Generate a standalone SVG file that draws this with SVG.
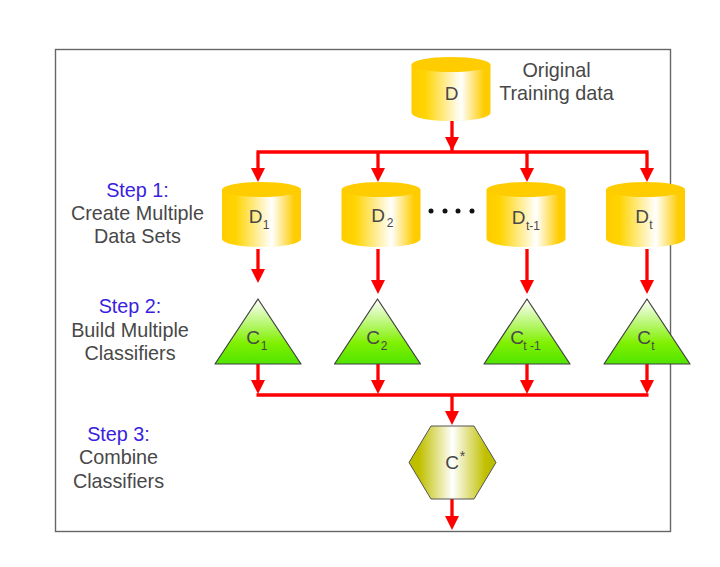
<svg xmlns="http://www.w3.org/2000/svg" xmlns:xlink="http://www.w3.org/1999/xlink" width="720" height="567" viewBox="0 0 720 567">
<style>
text{font-family:"Liberation Sans",Arial,sans-serif;fill:#484848;font-size:19.800px;text-anchor:middle}
text.step{fill:#3a1ee0}
text.lbl{font-size:19px}
text.sub{font-size:12px}
text.ast{font-size:14px}
.wire{stroke:#ff0000;stroke-width:3.300;fill:none}
.head{fill:#ff0000}
.cyl{fill:url(#gold)}
.cap{fill:#ffcc00}
.tri{fill:url(#green);stroke:#404040;stroke-width:1.200;stroke-linejoin:round}
.dot{fill:#111}
</style>
<defs>
<linearGradient id="gold" x1="0" x2="1" y1="0" y2="0">
<stop offset="0" stop-color="#ffcc00"/><stop offset="0.17" stop-color="#ffd400"/><stop offset="0.63" stop-color="#ffffff"/><stop offset="0.92" stop-color="#ffcc00"/><stop offset="1" stop-color="#ffcc00"/>
</linearGradient>
<linearGradient id="green" x1="0" x2="0" y1="0" y2="1">
<stop offset="0" stop-color="#ffffff"/><stop offset="0.68" stop-color="#80f000"/><stop offset="1" stop-color="#50e400"/>
</linearGradient>
<linearGradient id="olive" x1="0" x2="1" y1="0" y2="0">
<stop offset="0" stop-color="#bcbc00"/><stop offset="0.12" stop-color="#c0c000"/><stop offset="0.5" stop-color="#ffffff"/><stop offset="0.88" stop-color="#c0c000"/><stop offset="1" stop-color="#bcbc00"/>
</linearGradient>
<path id="cylinder" d="M-39.500 -55 V-6 A39.500 8 0 0 0 39.500 -6 V-55 Z"/>
<path id="arrow" d="M-7 -14 H7 L0 0 Z"/>
<path id="triangle" d="M0 0 L43 65 H-43 Z"/>
</defs>
<rect x="55.500" y="49.500" width="615" height="482" fill="#fff" stroke="#666" stroke-width="1.400"/>
<g id="connectors">
<path class="wire" d="M452 120V140M256.500 152H648.500M258 152V170M378 152V170M527 152V170M647 152V170M452 152V140"/>
<path class="wire" d="M258 249V272M378 249V283M527 249V283M647 249V283"/>
<path class="wire" d="M258 364V383M378 364V383M527 364V383M647 364V383M256.500 395H648.500M452 395V412M452 499V518"/>
<g class="head">
<use xlink:href="#arrow" x="452" y="151"/><use xlink:href="#arrow" x="258" y="182"/><use xlink:href="#arrow" x="378" y="182"/><use xlink:href="#arrow" x="527" y="182"/><use xlink:href="#arrow" x="647" y="182"/>
<use xlink:href="#arrow" x="258" y="283"/><use xlink:href="#arrow" x="378" y="294"/><use xlink:href="#arrow" x="527" y="294"/><use xlink:href="#arrow" x="647" y="294"/>
<use xlink:href="#arrow" x="258" y="394"/><use xlink:href="#arrow" x="378" y="394"/><use xlink:href="#arrow" x="527" y="394"/><use xlink:href="#arrow" x="647" y="394"/>
<use xlink:href="#arrow" x="452" y="425"/><use xlink:href="#arrow" x="452" y="530"/>
</g>
</g>
<g id="node-D"><use xlink:href="#cylinder" x="451" y="119" class="cyl"/><ellipse class="cap" cx="451" cy="64.500" rx="39.500" ry="7.500"/><text class="lbl" x="451.500" y="99.500">D</text></g>
<g id="label-original"><text x="556.500" y="77">Original</text><text x="556.500" y="100">Training data</text></g>
<g id="node-D1"><use xlink:href="#cylinder" x="261.500" y="245" class="cyl"/><ellipse class="cap" cx="261.500" cy="189.500" rx="39.500" ry="7.500"/><text class="lbl" x="255.500" y="223">D</text><text class="sub" x="266" y="229">1</text></g>
<g id="node-D2"><use xlink:href="#cylinder" x="381" y="245" class="cyl"/><ellipse class="cap" cx="381" cy="189.500" rx="39.500" ry="7.500"/><text class="lbl" x="378" y="222">D</text><text class="sub" x="390" y="227">2</text></g>
<g id="node-dots"><circle class="dot" cx="431" cy="211" r="2.500"/><circle class="dot" cx="445" cy="211" r="2.500"/><circle class="dot" cx="458" cy="211" r="2.500"/><circle class="dot" cx="472" cy="211" r="2.500"/></g>
<g id="node-Dt1"><use xlink:href="#cylinder" x="526" y="245" class="cyl"/><ellipse class="cap" cx="526" cy="189.500" rx="39.500" ry="7.500"/><text class="lbl" x="518.500" y="224">D</text><text class="sub" x="533" y="230">t-1</text></g>
<g id="node-Dt"><use xlink:href="#cylinder" x="645.500" y="245" class="cyl"/><ellipse class="cap" cx="645.500" cy="189.500" rx="39.500" ry="7.500"/><text class="lbl" x="642" y="223">D</text><text class="sub" x="651" y="229">t</text></g>
<g id="node-C1"><use xlink:href="#triangle" x="258" y="299" class="tri"/><text class="lbl" x="253" y="344">C</text><text class="sub" x="264" y="350">1</text></g>
<g id="node-C2"><use xlink:href="#triangle" x="377.500" y="299" class="tri"/><text class="lbl" x="373" y="344">C</text><text class="sub" x="384" y="350">2</text></g>
<g id="node-Ct1"><use xlink:href="#triangle" x="527" y="299" class="tri"/><text class="lbl" x="517" y="344">C</text><text class="sub" x="532" y="350">t -1</text></g>
<g id="node-Ct"><use xlink:href="#triangle" x="647" y="299" class="tri"/><text class="lbl" x="644" y="344">C</text><text class="sub" x="653" y="350">t</text></g>
<g id="node-Cstar"><path d="M431 426 H474 L496 462.500 L474 499 H431 L409 462.500 Z" fill="url(#olive)" stroke="#555" stroke-width="1"/><text class="lbl" x="452" y="469">C</text><text class="ast" x="462.500" y="461">*</text></g>
<g id="step-1"><text class="step" x="137.500" y="197">Step 1:</text><text x="137.500" y="220">Create Multiple</text><text x="137.500" y="243">Data Sets</text></g>
<g id="step-2"><text class="step" x="130" y="313">Step 2:</text><text x="130" y="337">Build Multiple</text><text x="130" y="360">Classifiers</text></g>
<g id="step-3"><text class="step" x="118.500" y="441">Step 3:</text><text x="118.500" y="464">Combine</text><text x="118.500" y="488">Classifiers</text></g>
</svg>
